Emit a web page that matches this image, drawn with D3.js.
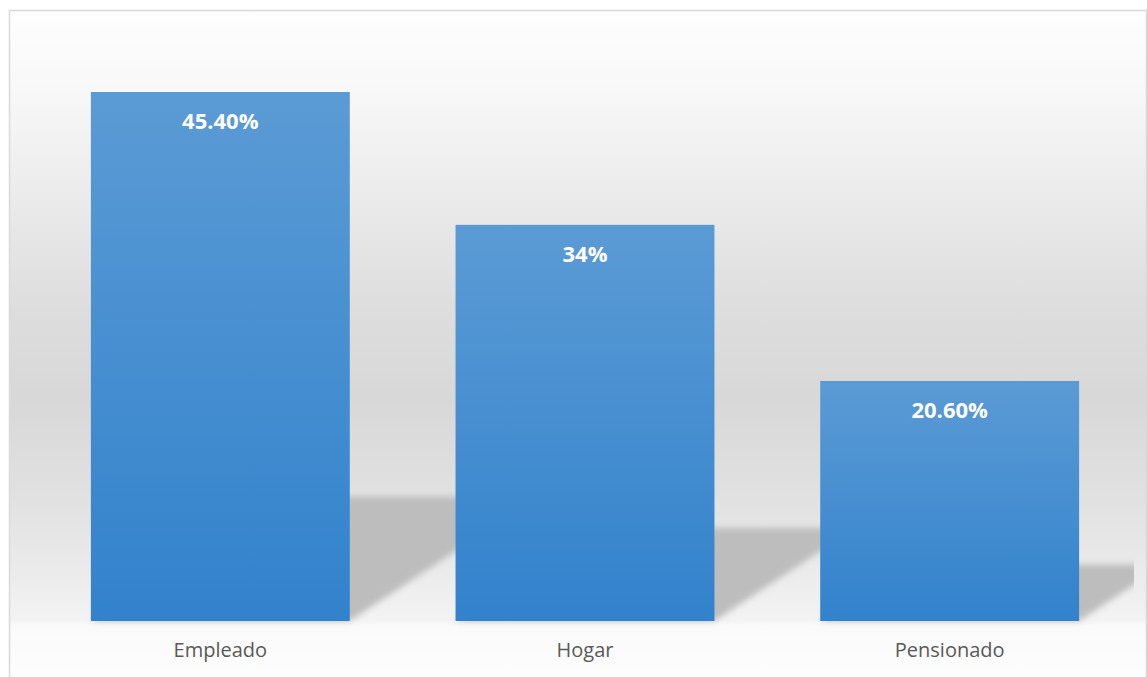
<!DOCTYPE html>
<html>
<head>
<meta charset="utf-8">
<script src="https://cdn.jsdelivr.net/npm/d3@7"></script>
<style>
  html, body { margin: 0; padding: 0; background: #ffffff; }
  svg { display: block; }
</style>
</head>
<body>
<svg id="chart" width="1147" height="677"></svg>
<script>
// Distribución por ocupación (%)
const categories = ["Empleado", "Hogar", "Pensionado"];
const values = [45.4, 34, 20.6];
const valueLabels = ["45.40%", "34%", "20.60%"];

const W = 1147, H = 677;
const plot = { left: 38, right: 1132, top: 38.4, bottom: 621 };

const svg = d3.select("#chart");
const defs = svg.append("defs");

// Chart background: light at the top, grey in the middle, light floor below
const bg = defs.append("linearGradient")
  .attr("id", "bgGrad").attr("gradientUnits", "userSpaceOnUse")
  .attr("x1", 0).attr("y1", 10).attr("x2", 0).attr("y2", H);
[[10, "#fefefe"], [90, "#f8f8f8"], [220, "#e8e8e8"], [310, "#dddddd"],
 [400, "#d8d8d8"], [490, "#e0e0e0"], [560, "#e9e9e9"], [620, "#f3f3f3"],
 [626, "#fafafa"], [H, "#fdfdfd"]].forEach(([y, c]) => {
  bg.append("stop").attr("offset", (y - 10) / (H - 10)).attr("stop-color", c);
});

// Bar fill: lighter blue at the top, deeper blue at the base
const barGrad = defs.append("linearGradient")
  .attr("id", "barGrad").attr("x1", 0).attr("y1", 0).attr("x2", 0).attr("y2", 1);
barGrad.append("stop").attr("offset", 0).attr("stop-color", "#5b9bd5");
barGrad.append("stop").attr("offset", 1).attr("stop-color", "#3282cc");

// Soft edge for the cast shadows
defs.append("filter").attr("id", "shadowBlur")
  .attr("x", "-20%").attr("y", "-20%").attr("width", "140%").attr("height", "140%")
  .append("feGaussianBlur").attr("stdDeviation", 3);

defs.append("clipPath").attr("id", "plotClip")
  .append("rect").attr("x", 10).attr("y", 11).attr("width", plot.right + 2 - 10).attr("height", H);

svg.append("rect").attr("x", 9.5).attr("y", 10.5).attr("width", W - 10.5 - 9.5 + 10).attr("height", H + 10)
  .attr("fill", "url(#bgGrad)").attr("stroke", "#d9d9d9").attr("stroke-width", 1.5);

const x = d3.scaleBand()
  .domain(categories)
  .range([plot.left, plot.right])
  .paddingInner(0.29)
  .paddingOuter(0.145);

const y = d3.scaleLinear()
  .domain([0, 50])
  .range([plot.bottom, plot.top]);

const data = categories.map((c, i) => ({ cat: c, value: values[i], label: valueLabels[i] }));

// Perspective shadows falling behind and to the right of each bar
const shadowLayer = svg.append("g").attr("clip-path", "url(#plotClip)");
shadowLayer.selectAll("path").data(data).join("path")
  .attr("d", d => {
    const x0 = x(d.cat), x1 = x0 + x.bandwidth();
    const base = y(0);
    const h = (base - y(d.value)) * 0.235;
    const dx = h / 0.66;
    return `M${x0},${base} L${x1},${base} L${x1 + dx},${base - h} L${x0 + dx},${base - h} Z`;
  })
  .attr("fill", "#bdbdbd")
  .attr("filter", "url(#shadowBlur)");

// Bars
svg.append("g").selectAll("rect").data(data).join("rect")
  .attr("x", d => x(d.cat))
  .attr("y", d => y(d.value))
  .attr("width", x.bandwidth())
  .attr("height", d => y(0) - y(d.value))
  .attr("fill", "url(#barGrad)");

// Value labels inside the top of each bar
svg.append("g").selectAll("text").data(data).join("text")
  .attr("x", d => x(d.cat) + x.bandwidth() / 2)
  .attr("y", d => y(d.value) + 37)
  .attr("text-anchor", "middle")
  .attr("font-family", "'Open Sans', 'Noto Sans', sans-serif")
  .attr("font-weight", "bold")
  .attr("font-size", 22)
  .attr("fill", "#ffffff")
  .text(d => d.label);

// Category axis
const xAxis = svg.append("g")
  .attr("transform", `translate(0,${plot.bottom})`)
  .call(d3.axisBottom(x).tickSize(0).tickPadding(0));
xAxis.select(".domain").remove();
xAxis.selectAll("text")
  .attr("dy", null)
  .attr("y", 36)
  .attr("font-family", "'Open Sans', 'Noto Sans', sans-serif")
  .attr("font-size", 20)
  .attr("fill", "#595959");
</script>
</body>
</html>
